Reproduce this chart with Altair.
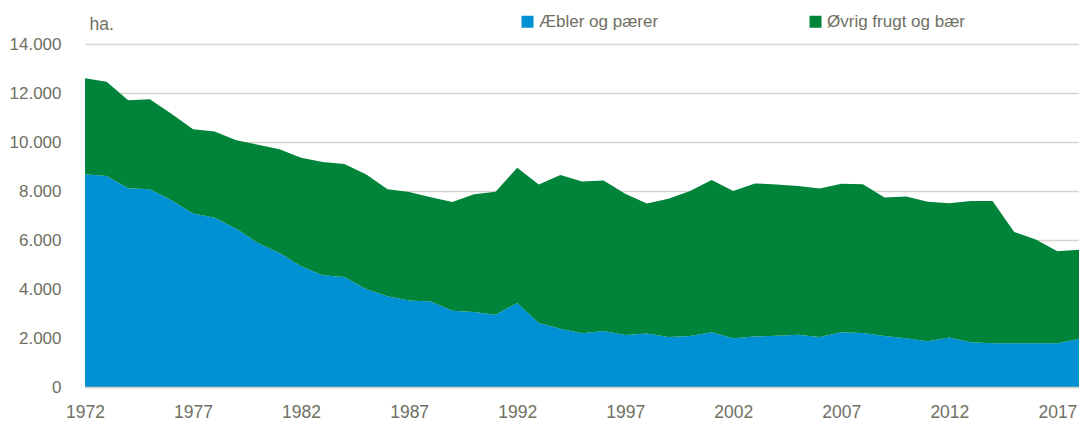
import altair as alt
import pandas as pd

years = list(range(1972, 2019))
aebler = [8680, 8610, 8110, 8070, 7620, 7080, 6910, 6460, 5880, 5470,
          4930, 4560, 4490, 4000, 3700, 3530, 3490, 3110, 3060, 2950,
          3430, 2610, 2380, 2190, 2290, 2120, 2180, 2040, 2080, 2230,
          1990, 2060, 2090, 2130, 2040, 2230, 2200, 2080, 1990, 1870,
          2020, 1830, 1790, 1790, 1790, 1790, 1960]
oevrig = [3920, 3850, 3590, 3670, 3530, 3440, 3520, 3610, 4010, 4230,
          4430, 4620, 4610, 4680, 4370, 4430, 4260, 4440, 4810, 5020,
          5520, 5660, 6270, 6200, 6140, 5770, 5310, 5640, 5920, 6220,
          6010, 6250, 6180, 6070, 6060, 6070, 6080, 5650, 5790, 5690,
          5480, 5760, 5800, 4540, 4230, 3750, 3640]
series = ["Æbler og pærer", "Øvrig frugt og bær"]
colors = ["#0090d4", "#00843a"]
x_ticks = [1972, 1977, 1982, 1987, 1992, 1997, 2002, 2007, 2012, 2017]
y_ticks = [0, 2000, 4000, 6000, 8000, 10000, 12000, 14000]

rows = []
for i, y in enumerate(years):
    rows.append({"year": y, "value": aebler[i], "serie": series[0], "ord": 0})
    rows.append({"year": y, "value": oevrig[i], "serie": series[1], "ord": 1})
df = pd.DataFrame(rows)

FONT = "Liberation Sans, Arial"
TXT = "#6f6f62"

chart = alt.Chart(df).mark_area(interpolate="linear").encode(
    x=alt.X("year:Q",
            scale=alt.Scale(domain=[1972, 2018], nice=False, zero=False),
            axis=alt.Axis(values=x_ticks, format="d", title=None, grid=False,
                          ticks=False, domain=True, domainColor="#d3d2ca",
                          domainWidth=1.5, labelPadding=16, labelFlush=False,
                          labelOverlap=False, zindex=1, labelFontSize=17.5,
                          labelFont=FONT, labelColor=TXT)),
    y=alt.Y("value:Q", stack="zero",
            scale=alt.Scale(domain=[0, 14000], nice=False),
            axis=alt.Axis(values=y_ticks,
                          labelExpr="replace(format(datum.value, ','), ',', '.')",
                          title="ha.", titleAngle=0, titleX=4, titleY=-14.5,
                          titleAlign="left", titleBaseline="alphabetic",
                          titleFont=FONT, titleFontSize=17.5, titleFontWeight="normal",
                          titleColor=TXT,
                          grid=True, gridColor="#d6d5cd", gridWidth=1.5,
                          domain=False, ticks=False, labelPadding=24,
                          labelFontSize=17, labelFont=FONT, labelColor=TXT)),
    color=alt.Color("serie:N",
                    scale=alt.Scale(domain=series, range=colors),
                    legend=alt.Legend(orient="none", legendX=434, legendY=-31,
                                      direction="horizontal", title=None,
                                      symbolType="square", symbolSize=144,
                                      symbolStrokeWidth=0, labelFontSize=17,
                                      labelFont=FONT, labelColor=TXT,
                                      labelLimit=400,
                                      labelOffset=3, columnPadding=148)),
    order=alt.Order("ord:Q", sort="ascending"),
).properties(
    width=994, height=343, autosize="none",
    padding={"left": 77, "top": 36, "right": 0, "bottom": 34},
).configure_view(stroke=None)

chart.save("out.html", embed_options={"renderer": "svg", "actions": False})
